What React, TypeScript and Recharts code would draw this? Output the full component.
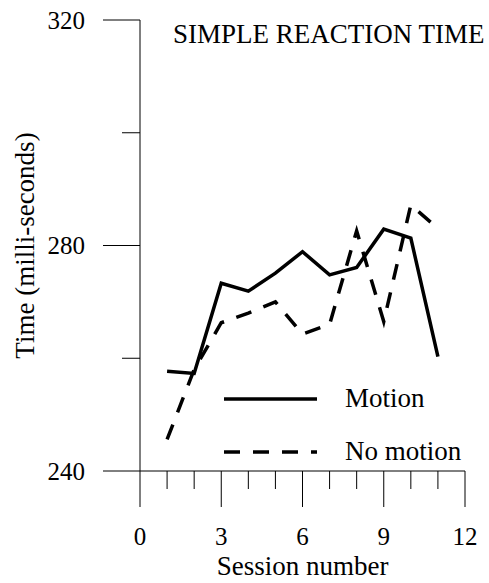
import React from 'react';
import { LineChart, Line, XAxis, YAxis, Legend, Customized } from 'recharts';

const sessions = [1, 2, 3, 4, 5, 6, 7, 8, 9, 10, 11];
const motion = [257.7, 257.3, 273.3, 271.9, 275.1, 278.9, 274.8, 276.1, 282.9, 281.3, 260.3];
const noMotion = [245.6, 258.0, 266.3, 268.0, 270.0, 264.3, 266.0, 282.6, 266.5, 287.2, 283.0];
const xTicks = [0, 1, 2, 3, 4, 5, 6, 7, 8, 9, 10, 11, 12];
const xLabeled = [0, 3, 6, 9, 12];
const yTicks = [240, 260, 280, 300, 320];
const yLabeled = [240, 280, 320];

const data = sessions.map((s, i) => ({ session: s, motion: motion[i], noMotion: noMotion[i] }));

const FONT = '"Liberation Serif", "Times New Roman", serif';
const FS = 27;
const TICK_FS = 25;
const DASH = '16 13';

const YTick = (props: any) => {
  const { x, y, payload } = props;
  const major = yLabeled.includes(payload.value);
  const len = major ? 37 : 18;
  return (
    <g>
      <line x1={x - len} x2={x} y1={y} y2={y} stroke="#000" strokeWidth={1} />
      {major && (
        <text x={x - 55} y={y} textAnchor="end" dominantBaseline="central" fontFamily={FONT} fontSize={TICK_FS} fill="#000">
          {payload.value}
        </text>
      )}
    </g>
  );
};

const XTick = (props: any) => {
  const { x, y, payload } = props;
  const major = xLabeled.includes(payload.value);
  const len = major ? 36 : 18;
  return (
    <g>
      <line x1={x} x2={x} y1={y} y2={y + len} stroke="#000" strokeWidth={1} />
      {major && (
        <text x={x} y={y + 65} textAnchor="middle" dominantBaseline="central" fontFamily={FONT} fontSize={TICK_FS} fill="#000">
          {payload.value}
        </text>
      )}
    </g>
  );
};

const YLabel = (props: any) => {
  const { viewBox } = props;
  const cx = viewBox.x + 25;
  const cy = viewBox.y + viewBox.height / 2;
  return (
    <text x={cx} y={cy} transform={`rotate(-90 ${cx} ${cy})`} textAnchor="middle" dominantBaseline="central" fontFamily={FONT} fontSize={FS} fill="#000">
      Time (milli-seconds)
    </text>
  );
};

const XLabel = (props: any) => {
  const { viewBox } = props;
  const cx = viewBox.x + viewBox.width / 2;
  const cy = viewBox.y + 95;
  return (
    <text x={cx} y={cy} textAnchor="middle" dominantBaseline="central" fontFamily={FONT} fontSize={FS} fill="#000">
      Session number
    </text>
  );
};

const Title = () => (
  <text x={173} y={34} dominantBaseline="central" fontFamily={FONT} fontSize={FS} fill="#000">
    SIMPLE REACTION TIME
  </text>
);

const LegendContent = (props: any) => {
  const { payload } = props;
  return (
    <div style={{ fontFamily: FONT, fontSize: FS, color: '#000' }}>
      {(payload || []).map((p: any) => {
        const dash = p.value === 'No motion' ? DASH : undefined;
        return (
          <div key={p.value} style={{ display: 'flex', alignItems: 'center', height: 53 }}>
            <svg width={94} height={10} style={{ display: 'block' }}>
              <line x1={0} x2={93} y1={5} y2={5} stroke="#000" strokeWidth={3.5} strokeDasharray={dash} />
            </svg>
            <span style={{ marginLeft: 27, lineHeight: '53px' }}>{p.value}</span>
          </div>
        );
      })}
    </div>
  );
};

export default function App() {
  return (
    <div style={{ position: 'absolute', left: 0, top: 0, background: '#fff' }}>
      <LineChart width={489} height={583} data={data} margin={{ top: 20, right: 24, bottom: 0, left: 0 }}>
        <XAxis
          dataKey="session"
          type="number"
          domain={[0, 12]}
          ticks={xTicks}
          interval={0}
          height={112}
          tickSize={0}
          tickMargin={0}
          tickLine={false}
          axisLine={{ stroke: '#000', strokeWidth: 1 }}
          tick={<XTick />}
          label={<XLabel />}
        />
        <YAxis
          type="number"
          domain={[240, 320]}
          ticks={yTicks}
          interval={0}
          width={140}
          tickSize={0}
          tickMargin={0}
          tickLine={false}
          axisLine={{ stroke: '#000', strokeWidth: 1 }}
          tick={<YTick />}
          label={<YLabel />}
        />
        <Legend
          layout="horizontal"
          verticalAlign="middle"
          align="center"
          content={<LegendContent />}
          wrapperStyle={{ left: 224, top: 372, width: 265 }}
        />
        <Line dataKey="motion" name="Motion" stroke="#000" strokeWidth={3.5} dot={false} isAnimationActive={false} />
        <Line dataKey="noMotion" name="No motion" stroke="#000" strokeWidth={3.5} strokeDasharray={DASH} dot={false} isAnimationActive={false} />
        <Customized component={<Title />} />
      </LineChart>
    </div>
  );
}
